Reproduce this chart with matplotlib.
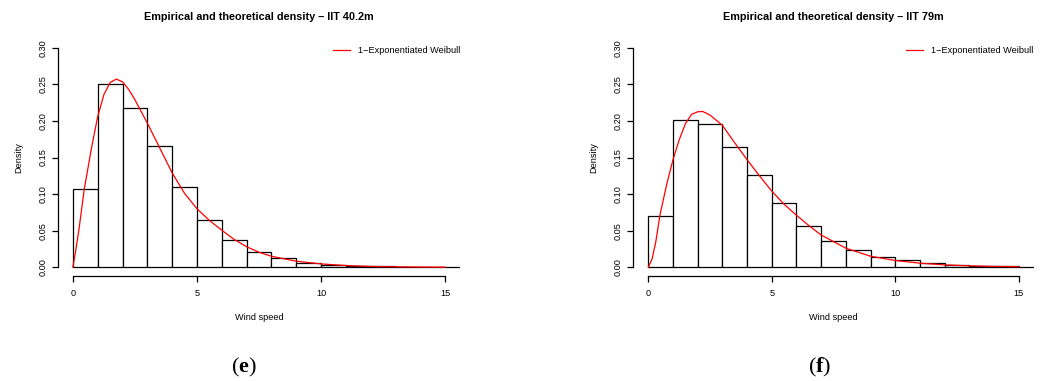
import numpy as np
import matplotlib
matplotlib.use('Agg')
import matplotlib.pyplot as plt

plt.rcParams['font.family'] = ['Liberation Sans', 'DejaVu Sans']
plt.rcParams['mathtext.fontset'] = 'custom'
plt.rcParams['mathtext.rm'] = 'Liberation Serif'
plt.rcParams['mathtext.bf'] = 'Liberation Serif:bold'

# histogram bins (wind speed, m/s)
bin_left = np.arange(0, 16)

# empirical densities per bin
dens_40 = [0.1066, 0.250, 0.218, 0.166, 0.109, 0.065, 0.037, 0.021,
           0.012, 0.0064, 0.0036, 0.0018, 0.0010, 0.0006, 0.0003, 0.0002]
dens_79 = [0.0706, 0.2013, 0.196, 0.165, 0.1266, 0.0874, 0.0569, 0.0364,
           0.0232, 0.0141, 0.0096, 0.0055, 0.0032, 0.0020, 0.0010, 0.0008]

# fitted 1-Exponentiated Weibull density
fit_x_40 = [0, 0.12, 0.25, 0.46, 0.75, 1.0, 1.25, 1.5, 1.75, 2.0, 2.25, 2.5,
            3.0, 3.5, 4.0, 4.5, 5.0, 5.5, 6.0, 6.5, 7.0, 7.5, 8, 9, 10,
            11, 12, 13, 14, 15]
fit_y_40 = [0, 0.024, 0.053, 0.107, 0.163, 0.206, 0.236, 0.2525, 0.2572,
            0.2535, 0.243, 0.229, 0.197, 0.163, 0.129, 0.101, 0.080, 0.064,
            0.0506, 0.038, 0.028, 0.0205, 0.015, 0.0082, 0.0045, 0.0023,
            0.0011, 0.0006, 0.0003, 0.0001]

fit_x_79 = [0, 0.15, 0.3, 0.47, 0.75, 1.0, 1.25, 1.5, 1.75, 2.0, 2.2, 2.5,
            3.0, 3.5, 4.0, 4.5, 5.0, 5.5, 6.0, 6.5, 7.0, 7.5, 8, 9, 10,
            11, 12, 13, 14, 15]
fit_y_79 = [0, 0.011, 0.034, 0.071, 0.114, 0.147, 0.174, 0.196, 0.209,
            0.2125, 0.213, 0.208, 0.194, 0.170, 0.147, 0.125, 0.104, 0.086,
            0.071, 0.057, 0.044, 0.035, 0.026, 0.015, 0.0092, 0.0055,
            0.0032, 0.0019, 0.0011, 0.0007]

titles = ['Empirical and theoretical density \u2013 IIT 40.2m',
          'Empirical and theoretical density \u2013 IIT 79m']
panels = ['e', 'f']

fig = plt.figure(figsize=(10.45, 3.81), dpi=100)
ax1 = fig.add_axes([0.0555, 0.2756, 0.3847, 0.6220])
ax2 = fig.add_axes([0.6062, 0.2756, 0.3829, 0.6220])

fs = 6.6
data = [(ax1, dens_40, fit_x_40, fit_y_40), (ax2, dens_79, fit_x_79, fit_y_79)]
for i, (ax, dens, fx, fy) in enumerate(data):
    ax.bar(bin_left, dens, width=1.0, align='edge', color='white',
           edgecolor='black', linewidth=0.9, zorder=1)
    ax.plot(fx, fy, color='red', linewidth=0.9, zorder=2,
            label='1\u2212Exponentiated Weibull')

    ax.set_xlim(-0.6, 15.6)
    ax.set_ylim(-0.012, 0.312)
    ax.spines['top'].set_visible(False)
    ax.spines['right'].set_visible(False)
    ax.spines['left'].set_bounds(0, 0.3)
    ax.spines['bottom'].set_bounds(0, 15)
    ax.spines['left'].set_linewidth(0.9)
    ax.spines['bottom'].set_linewidth(0.9)

    ax.set_xticks([0, 5, 10, 15])
    yt = np.arange(0, 0.31, 0.05)
    ax.set_yticks(yt)
    ax.set_yticklabels(['%.2f' % v for v in yt], rotation=90, va='center')
    ax.tick_params(axis='x', length=4.2, width=0.9, pad=5.5, labelsize=fs)
    ax.tick_params(axis='y', length=4.2, width=0.9, pad=3.5, labelsize=fs)

    ax.set_xlabel('Wind speed', fontsize=fs, labelpad=10.5)
    ax.set_ylabel('Density', fontsize=fs, labelpad=11)
    ax.set_title(titles[i], fontsize=7.8, fontweight='bold', pad=13.5)

    ax.legend(loc='upper right', bbox_to_anchor=(1.013, 0.99), frameon=False,
              fontsize=fs, handlelength=1.85, handletextpad=0.9,
              borderaxespad=0.0, borderpad=0.55)

    # panel letter under each plot
    cx = 244 / 1045 if i == 0 else 820 / 1045
    fig.text(cx, 1 - 367 / 381, r'$\mathrm{(}\mathbf{%s}\mathrm{)}$' % panels[i],
             fontsize=16, ha='center', va='center')

fig.savefig('out.png', dpi=100)
